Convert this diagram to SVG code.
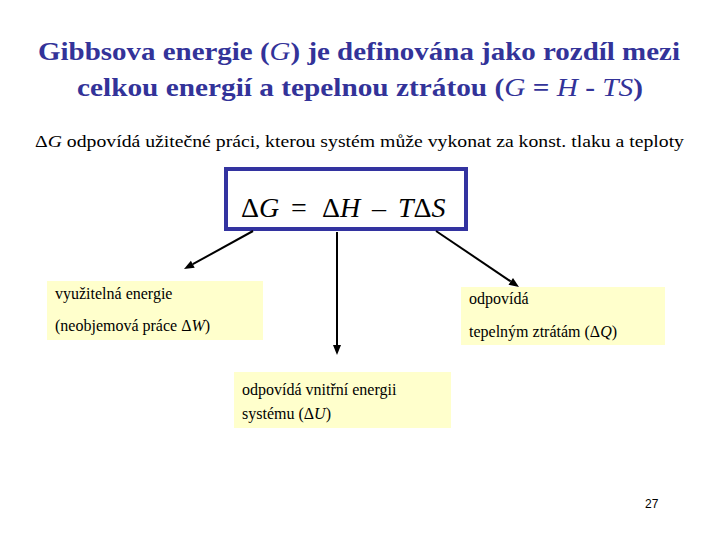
<svg xmlns="http://www.w3.org/2000/svg" width="720" height="540" viewBox="0 0 720 540">
<rect width="720" height="540" fill="#fff"/>
<text x="359" y="60" font-family="Times New Roman, Liberation Serif, serif" font-size="26" font-weight="bold" fill="#333399" text-anchor="middle" textLength="642" lengthAdjust="spacingAndGlyphs">Gibbsova energie (<tspan font-style="italic" font-weight="normal">G</tspan>) je definována jako rozdíl mezi</text>
<text x="360" y="96" font-family="Times New Roman, Liberation Serif, serif" font-size="26" font-weight="bold" fill="#333399" text-anchor="middle" textLength="566" lengthAdjust="spacingAndGlyphs">celkou energií a tepelnou ztrátou (<tspan font-style="italic" font-weight="normal">G</tspan> = <tspan font-style="italic" font-weight="normal">H</tspan> - <tspan font-style="italic" font-weight="normal">TS</tspan>)</text>
<text x="35" y="147" font-family="Times New Roman, Liberation Serif, serif" font-size="17" textLength="649" lengthAdjust="spacingAndGlyphs">Δ<tspan font-style="italic">G</tspan> odpovídá užitečné práci, kterou systém může vykonat za konst. tlaku a teploty</text>
<g id="main">
<rect x="226" y="169" width="240" height="60" fill="#fff" stroke="#3333a0" stroke-width="4"/>
<text y="217" font-family="Times New Roman, Liberation Serif, serif" font-size="28"><tspan x="241">Δ<tspan font-style="italic">G</tspan></tspan><tspan x="291">=</tspan><tspan x="322">Δ<tspan font-style="italic">H</tspan></tspan><tspan x="372">–</tspan><tspan x="398" font-style="italic">T</tspan><tspan>Δ</tspan><tspan font-style="italic">S</tspan></text>
</g>
<g id="connectors">
<line x1="253" y1="231" x2="192.8" y2="264.2" stroke="#000" stroke-width="2"/>
<polygon points="184,269 194.7,267.7 190.9,260.7" fill="#000"/>
<line x1="337" y1="232" x2="337" y2="345" stroke="#000" stroke-width="2"/>
<polygon points="337,355 333,345 341,345" fill="#000"/>
<line x1="436" y1="231" x2="510.7" y2="281.4" stroke="#000" stroke-width="2"/>
<polygon points="519,287 508.5,284.7 513,278.1" fill="#000"/>
</g>
<g id="left">
<rect x="47" y="281" width="216" height="59" fill="#ffffcc"/>
<text x="55" y="299" font-family="Times New Roman, Liberation Serif, serif" font-size="16">využitelná energie</text>
<text x="55" y="331" font-family="Times New Roman, Liberation Serif, serif" font-size="16">(neobjemová práce Δ<tspan font-style="italic">W</tspan>)</text>
</g>
<g id="right">
<rect x="461" y="287" width="204" height="58" fill="#ffffcc"/>
<text x="469" y="304" font-family="Times New Roman, Liberation Serif, serif" font-size="16">odpovídá</text>
<text x="469" y="337" font-family="Times New Roman, Liberation Serif, serif" font-size="16">tepelným ztrátám (Δ<tspan font-style="italic">Q</tspan>)</text>
</g>
<g id="bottom">
<rect x="234" y="372" width="217" height="56" fill="#ffffcc"/>
<text x="242" y="395" font-family="Times New Roman, Liberation Serif, serif" font-size="16">odpovídá vnitřní energii</text>
<text x="242" y="419" font-family="Times New Roman, Liberation Serif, serif" font-size="16">systému (Δ<tspan font-style="italic">U</tspan>)</text>
</g>
<text x="645" y="508" font-family="Liberation Sans, Arial, sans-serif" font-size="12">27</text>
</svg>
